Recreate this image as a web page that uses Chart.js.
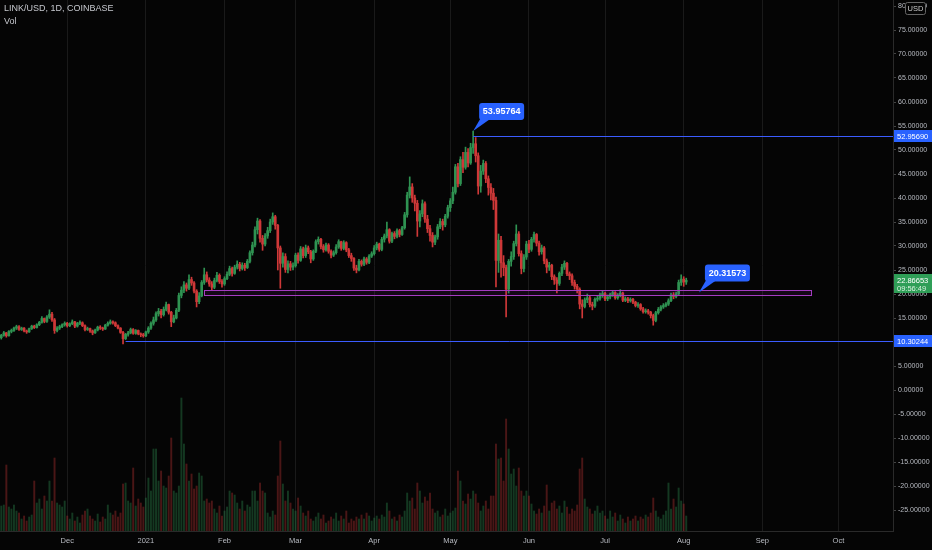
<!DOCTYPE html>
<html><head><meta charset="utf-8">
<script src="https://cdn.jsdelivr.net/npm/chart.js@4.4.1/dist/chart.umd.min.js"></script>
<style>html,body{margin:0;padding:0;background:#050505;overflow:hidden}#wrap{width:932px;height:550px}</style>
</head><body><div id="wrap"><canvas id="c" width="932" height="550"></canvas></div>
<script>
// ---- data (daily candles from 2020-11-05) ----
const startDateUTC = Date.UTC(2020, 10, 5);
const dayCount = 352;               // visible days on the time axis (to 2021-10-22)
const monthNames = ['Jan','Feb','Mar','Apr','May','Jun','Jul','Aug','Sep','Oct','Nov','Dec'];
const priceTickMin = -25, priceTickMax = 80, priceTickStep = 5;

const opens = [
10.9,11.4,11.9,11.3,12.2,12.4,12.9,13.2,12.6,12.9,
12.3,12.1,12.8,13.3,13.0,13.6,14.1,14.9,14.3,15.2,
15.8,14.6,12.4,12.9,13.2,13.6,13.9,13.4,13.8,14.2,
13.3,13.9,14.0,13.4,12.6,12.8,12.3,11.9,12.5,13.1,
12.9,12.7,13.5,13.9,14.2,14.0,13.4,12.9,12.0,10.7,
11.6,11.9,12.6,11.8,12.4,11.7,11.5,11.3,12.1,12.9,
13.9,14.6,15.9,16.4,15.7,16.8,17.8,16.2,14.2,15.0,
16.6,19.7,20.8,21.9,21.2,23.0,22.3,20.6,18.4,19.6,
22.4,24.0,22.9,22.1,21.4,22.8,23.9,22.6,22.1,23.2,
24.1,25.3,24.3,25.6,26.2,25.3,26.0,25.5,26.8,28.6,
30.2,33.4,35.2,31.6,30.4,32.1,33.2,35.0,36.1,34.3,
29.6,26.4,27.8,25.1,26.3,25.6,25.9,28.1,27.0,29.4,
28.0,29.6,28.8,27.3,28.9,30.9,31.4,29.9,29.2,30.2,
28.9,28.1,28.6,29.8,30.9,29.5,30.7,29.2,28.0,27.4,
25.4,25.0,26.8,26.2,27.3,26.6,27.9,28.4,29.6,30.4,
29.3,31.4,32.1,33.4,31.0,32.6,32.0,33.2,32.4,33.8,
36.5,40.6,42.3,40.0,38.9,35.2,36.7,38.8,35.6,33.6,
32.2,30.8,31.9,34.0,35.1,34.4,36.2,38.0,39.4,41.2,
46.5,43.0,48.0,46.4,49.5,47.3,50.5,51.3,48.8,42.5,
45.6,47.2,44.0,42.2,41.0,39.5,27.0,31.2,26.5,25.5,
21.0,26.8,27.8,30.5,32.5,28.4,25.3,27.7,30.4,29.3,
31.4,32.4,30.6,28.8,29.6,26.9,25.6,26.0,23.6,22.9,
22.2,24.3,25.6,26.4,24.2,23.8,22.4,21.6,21.0,17.9,
17.4,18.8,19.2,17.8,17.5,18.9,19.1,19.8,20.1,19.0,
19.4,19.9,20.3,19.2,19.8,20.2,18.7,19.0,18.6,18.9,
18.3,17.6,17.8,16.9,16.3,16.5,16.2,15.5,14.5,16.1,
16.8,17.3,17.6,17.9,18.6,19.8,19.5,20.0,22.4,23.1,
22.5];

const highs = [
11.6,12.2,12.0,12.4,12.7,13.1,13.5,13.4,13.1,13.0,
12.5,12.9,13.5,13.5,13.8,14.3,15.3,15.0,15.5,16.7,
16.2,14.9,13.2,13.5,13.8,14.2,14.1,14.0,14.6,14.3,
14.1,14.4,14.2,13.6,13.1,12.9,12.5,12.7,13.3,13.4,
13.1,13.7,14.2,14.6,14.4,14.2,13.6,13.0,12.2,11.8,
12.2,12.9,12.8,12.6,12.5,11.9,11.8,12.3,13.2,14.2,
15.2,16.3,17.0,16.8,17.3,18.3,17.9,16.4,15.6,17.0,
20.2,21.5,22.6,22.3,24.0,23.5,22.6,20.9,20.3,22.8,
25.4,24.6,23.4,22.6,23.3,24.5,24.2,23.0,23.6,24.6,
25.8,25.6,26.0,26.9,26.6,26.5,26.4,27.2,29.0,30.8,
34.0,35.8,35.5,32.2,32.6,33.9,35.6,36.9,36.4,34.5,
30.0,28.6,28.4,26.9,26.8,26.5,28.5,28.6,29.9,29.8,
30.2,30.0,29.1,29.2,31.3,31.9,31.6,30.3,30.6,30.5,
29.2,29.0,30.3,31.3,31.0,31.1,30.9,29.5,28.5,27.6,
26.0,27.2,27.1,27.7,27.6,28.2,28.8,30.1,30.8,30.6,
31.8,32.5,35.0,33.6,32.9,33.0,33.6,33.5,34.1,37.0,
41.2,44.4,43.0,40.6,39.5,37.4,39.6,39.2,36.4,34.3,
32.8,32.3,34.5,35.7,35.6,36.6,38.5,39.9,42.3,47.0,
47.2,48.6,49.5,50.6,50.3,51.4,53.95764,52.6,49.4,46.8,
47.9,47.6,44.6,43.0,42.0,40.2,32.5,32.0,28.0,26.0,
27.2,28.8,31.0,34.4,33.0,29.0,28.2,31.0,31.2,31.8,
32.9,32.6,31.0,30.2,29.9,27.3,26.6,26.2,24.0,23.4,
24.6,26.2,26.9,26.6,24.6,24.2,22.9,22.0,21.3,18.8,
19.2,20.0,19.5,18.3,19.2,19.6,20.2,20.6,20.4,19.8,
20.2,20.6,20.5,20.1,20.9,20.4,19.4,19.3,19.2,19.1,
18.5,18.2,18.0,17.2,16.9,16.8,16.4,15.8,16.4,17.2,
17.6,18.0,18.2,19.0,20.2,20.3,20.4,22.9,24.0,23.6,
23.3];

const lows = [
10.6,11.2,11.0,11.2,11.9,12.2,12.6,12.4,12.4,12.1,
11.8,12.0,12.6,12.8,12.9,13.4,13.9,14.0,14.1,14.9,
14.3,11.8,12.1,12.6,13.0,13.3,13.1,13.2,13.6,13.0,
13.1,13.6,13.2,12.3,12.4,12.0,11.5,11.8,12.3,12.6,
12.4,12.6,13.3,13.7,13.7,13.2,12.7,11.8,9.6,10.5,
11.2,11.7,11.6,11.6,11.5,11.1,11.0,11.1,11.8,12.6,
13.5,14.3,15.4,15.0,15.4,16.5,15.8,13.2,14.0,14.8,
16.3,19.2,20.3,20.6,20.9,21.8,20.2,17.3,18.0,19.4,
22.0,22.5,21.6,20.8,21.1,22.5,22.2,21.4,21.8,23.0,
23.8,23.7,24.1,25.2,24.8,25.0,24.9,25.3,26.5,28.1,
29.8,32.5,30.8,29.1,30.0,31.6,32.8,34.5,33.5,25.0,
21.2,25.6,24.5,24.4,24.9,25.0,25.6,26.4,26.8,27.5,
27.6,28.4,26.5,27.0,28.6,30.4,29.4,28.7,28.9,28.5,
27.5,27.8,28.3,29.5,29.1,29.2,28.8,27.6,26.8,24.9,
24.4,24.8,25.8,25.9,26.2,26.3,27.6,28.1,29.2,28.9,
29.0,30.8,31.7,30.6,30.7,31.5,31.7,31.9,32.2,33.5,
36.0,40.0,39.1,37.3,32.0,34.0,36.1,34.9,32.8,31.0,
29.8,30.3,31.4,33.6,33.3,34.0,35.8,37.2,38.8,40.8,
42.3,42.6,45.3,46.0,46.5,47.0,49.3,47.5,40.8,41.2,
44.9,43.2,40.6,39.6,37.6,21.5,24.5,23.5,23.8,15.2,
20.2,25.8,27.2,30.0,27.9,24.2,24.6,27.2,28.6,28.9,
30.8,30.0,28.1,28.3,26.3,24.4,24.9,23.0,22.0,20.2,
21.8,23.8,25.1,23.8,23.0,21.8,21.0,20.2,16.9,15.0,
17.1,18.2,17.3,16.7,17.2,18.5,18.7,19.3,18.6,18.6,
19.0,19.5,18.9,18.9,19.4,18.4,18.4,18.2,18.3,18.0,
17.3,17.2,16.6,16.0,16.0,15.8,15.0,13.5,14.2,15.8,
16.5,17.0,17.3,17.6,18.4,19.0,19.2,19.8,21.8,21.6,
22.0];

const closes = [
11.4,11.9,11.3,12.2,12.4,12.9,13.2,12.6,12.9,12.3,
12.1,12.8,13.3,13.0,13.6,14.1,14.9,14.3,15.2,15.8,
14.6,12.4,12.9,13.2,13.6,13.9,13.4,13.8,14.2,13.3,
13.9,14.0,13.4,12.6,12.8,12.3,11.9,12.5,13.1,12.9,
12.7,13.5,13.9,14.2,14.0,13.4,12.9,12.0,10.7,11.6,
11.9,12.6,11.8,12.4,11.7,11.5,11.3,12.1,12.9,13.9,
14.6,15.9,16.4,15.7,16.8,17.8,16.2,14.2,15.0,16.6,
19.7,20.8,21.9,21.2,23.0,22.3,20.6,18.4,19.6,22.4,
24.0,22.9,22.1,21.4,22.8,23.9,22.6,22.1,23.2,24.1,
25.3,24.3,25.6,26.2,25.3,26.0,25.5,26.8,28.6,30.2,
33.4,35.2,31.6,30.4,32.1,33.2,35.0,36.1,34.3,29.6,
26.4,27.8,25.1,26.3,25.6,25.9,28.1,27.0,29.4,28.0,
29.6,28.8,27.3,28.9,30.9,31.4,29.9,29.2,30.2,28.9,
28.1,28.6,29.8,30.9,29.5,30.7,29.2,28.0,27.4,25.4,
25.0,26.8,26.2,27.3,26.6,27.9,28.4,29.6,30.4,29.3,
31.4,32.1,33.4,31.0,32.6,32.0,33.2,32.4,33.8,36.5,
40.6,42.3,40.0,38.9,35.2,36.7,38.8,35.6,33.6,32.2,
30.8,31.9,34.0,35.1,34.4,36.2,38.0,39.4,41.2,46.5,
43.0,48.0,46.4,49.5,47.3,50.5,51.3,48.8,42.5,45.6,
47.2,44.0,42.2,41.0,39.5,27.0,31.2,26.5,25.5,21.0,
26.8,27.8,30.5,32.5,28.4,25.3,27.7,30.4,29.3,31.4,
32.4,30.6,28.8,29.6,26.9,25.6,26.0,23.6,22.9,22.2,
24.3,25.6,26.4,24.2,23.8,22.4,21.6,21.0,17.9,17.4,
18.8,19.2,17.8,17.5,18.9,19.1,19.8,20.1,19.0,19.4,
19.9,20.3,19.2,19.8,20.2,18.7,19.0,18.6,18.9,18.3,
17.6,17.8,16.9,16.3,16.5,16.2,15.5,14.5,16.1,16.8,
17.3,17.6,17.9,18.6,19.8,19.5,20.0,22.4,23.1,22.5,
22.86653];

// volume, millions
const volumes = [
2.5,2.6,6.6,2.4,2.2,2.6,2.0,1.8,1.2,1.5,
1.0,1.4,1.6,5.0,2.8,3.2,2.2,3.5,3.0,5.0,
3.0,7.3,2.8,2.6,2.4,3.0,1.5,1.2,1.8,1.0,
1.4,0.8,1.6,2.0,2.2,1.5,1.2,1.0,1.7,0.9,
1.4,1.2,2.6,1.8,1.6,2.0,1.4,1.8,4.7,4.8,
3.0,2.8,6.3,2.5,3.2,2.8,2.4,3.3,5.3,4.0,
8.2,8.2,5.0,6.0,4.5,4.3,5.5,9.3,4.0,3.8,
4.5,13.3,8.7,6.7,5.0,5.7,4.2,4.5,5.8,5.5,
3.0,3.2,2.8,3.0,2.2,1.8,2.5,1.5,2.0,2.4,
4.0,3.8,3.6,2.8,2.2,3.0,2.0,2.6,2.4,4.0,
4.0,3.0,4.8,4.0,3.8,1.8,1.4,2.0,1.6,5.5,
9.0,4.7,3.0,4.0,2.8,2.2,2.0,3.3,2.5,1.8,
1.5,2.0,1.2,1.0,1.4,1.8,1.2,1.6,0.8,1.0,
1.4,1.2,1.8,1.0,1.5,1.2,2.0,0.8,1.2,1.0,
1.4,1.2,1.6,1.2,1.8,1.5,1.0,1.3,1.5,1.2,
1.6,1.4,2.8,2.0,1.2,1.4,1.0,1.6,1.4,2.0,
3.8,3.0,3.3,2.2,4.8,4.0,2.8,3.4,3.0,3.8,
2.2,1.8,2.0,1.4,1.6,2.2,1.5,1.8,2.0,2.3,
6.0,5.0,3.0,2.7,3.7,3.2,4.0,3.7,2.8,2.0,
2.5,3.0,2.2,3.5,3.5,8.7,7.2,7.3,5.0,11.2,
8.2,5.7,6.2,4.5,6.3,4.0,3.5,4.0,3.5,2.7,
2.0,1.7,2.2,1.8,2.5,4.6,2.0,2.8,3.0,2.2,
2.5,1.8,3.0,2.4,1.7,2.2,2.0,2.6,6.2,7.3,
3.2,2.4,2.2,1.7,2.0,2.5,1.8,2.0,1.5,1.2,
2.0,1.4,1.8,1.0,1.6,1.2,0.8,1.4,1.0,1.2,
1.5,1.0,1.4,1.2,1.6,1.4,1.8,3.3,2.0,1.4,
1.2,1.6,2.0,4.8,2.2,3.2,2.4,4.3,3.0,2.7,
1.5];

// drawings
const levelValues = [52.9569, 10.30244];
const levelStartIdx = [186, 49];
const zoneTop = 20.83, zoneBottom = 19.79, zoneStartIdx = 80, zoneEndIdx = 319;
const calloutIdx = [186, 275];
const calloutValues = [53.95764, 20.31573];
const countdownText = '09:56:49';
const titleText = 'LINK/USD, 1D, COINBASE';
const volText = 'Vol';

// ---- build ----
const days = [];
for (let i = 0; i < dayCount; i++) days.push(new Date(startDateUTC + i * 86400000));
const categories = days.map(d => d.toISOString().slice(0, 10));
const isUp = closes.map((c, i) => c >= opens[i]);
const UP = '#2f9352', DOWN = '#cf3838';
const candleColors = isUp.map(u => u ? UP : DOWN);
const volColors = isUp.map(u => u ? 'rgba(47,147,82,0.36)' : 'rgba(207,56,56,0.34)');
const BG = '#050505';
const TXT = '#b8bbc2';
const FONT = "'Liberation Sans','DejaVu Sans',sans-serif";

function isMonthStart(i) { return days[i] && days[i].getUTCDate() === 1; }

const overlay = {
  id: 'overlay',
  beforeDraw(chart) {
    const c = chart.ctx; c.save(); c.fillStyle = BG; c.fillRect(0, 0, chart.width, chart.height); c.restore();
  },
  afterDraw(chart) {
    const ctx = chart.ctx, xs = chart.scales.x, ys = chart.scales.y, a = chart.chartArea;
    ctx.save();
    // zone rectangle
    const zx0 = Math.round(xs.getPixelForValue(zoneStartIdx)) + 0.5, zx1 = Math.round(xs.getPixelForValue(zoneEndIdx)) + 0.5;
    const zy0 = Math.round(ys.getPixelForValue(zoneTop)) + 0.5, zy1 = Math.round(ys.getPixelForValue(zoneBottom)) + 0.5;
    ctx.fillStyle = 'rgba(156,39,176,0.10)';
    ctx.fillRect(zx0, zy0, zx1 - zx0, zy1 - zy0);
    ctx.strokeStyle = '#a43cc0'; ctx.lineWidth = 1;
    ctx.strokeRect(zx0, zy0, zx1 - zx0, zy1 - zy0);
    // horizontal levels
    ctx.strokeStyle = '#3b5cff'; ctx.lineWidth = 1;
    levelValues.forEach((v, k) => {
      const py = Math.round(ys.getPixelForValue(v)) + 0.5;
      const px = xs.getPixelForValue(levelStartIdx[k]);
      ctx.beginPath(); ctx.moveTo(px, py); ctx.lineTo(a.right, py); ctx.stroke();
    });
    // callouts
    ctx.font = "bold 9px " + FONT;
    ctx.textAlign = 'center'; ctx.textBaseline = 'middle';
    calloutValues.forEach((v, k) => {
      const ax = xs.getPixelForValue(calloutIdx[k]), ay = ys.getPixelForValue(v);
      const left = ax + 6, w = 45, bottom = ay - 11, h = 17;
      ctx.fillStyle = '#2962ff';
      ctx.beginPath();
      if (ctx.roundRect) ctx.roundRect(left, bottom - h, w, h, 3); else ctx.rect(left, bottom - h, w, h);
      ctx.fill();
      ctx.beginPath(); ctx.moveTo(ax, ay); ctx.lineTo(left + 1, bottom - 1); ctx.lineTo(left + 11, bottom - 1); ctx.closePath(); ctx.fill();
      ctx.fillStyle = '#ffffff';
      ctx.fillText(v.toFixed(5), left + w / 2, bottom - h / 2 + 0.5);
    });
    // axis price labels for levels
    ctx.font = "7.5px " + FONT;
    ctx.textAlign = 'left';
    levelValues.forEach(v => {
      const py = Math.round(ys.getPixelForValue(v));
      ctx.fillStyle = '#2962ff';
      ctx.fillRect(a.right + 1, py - 6, chart.width - a.right - 1, 12);
      ctx.fillStyle = '#ffffff';
      ctx.fillText(v.toFixed(5), a.right + 4, py + 0.5);
    });
    // current price label
    const last = closes[closes.length - 1];
    const cy = Math.round(ys.getPixelForValue(last));
    ctx.fillStyle = '#2f9e57';
    ctx.fillRect(a.right + 1, cy - 6, chart.width - a.right - 1, 19);
    ctx.fillStyle = '#ffffff';
    ctx.fillText(last.toFixed(5), a.right + 4, cy + 0.5);
    ctx.fillStyle = '#d9f2df';
    ctx.fillText(countdownText, a.right + 4, cy + 8.5);
    // USD badge
    ctx.fillStyle = BG;
    ctx.fillRect(905, 2, 21, 13);
    ctx.strokeStyle = '#666'; ctx.lineWidth = 1;
    ctx.beginPath();
    if (ctx.roundRect) ctx.roundRect(905.5, 2.5, 20, 12, 2); else ctx.rect(905.5, 2.5, 20, 12);
    ctx.stroke();
    ctx.fillStyle = '#c8c8c8'; ctx.textAlign = 'center';
    ctx.fillText('USD', 915.5, 9);
    // title
    ctx.textAlign = 'left';
    ctx.font = "9px " + FONT;
    ctx.fillStyle = '#c6c8ce';
    ctx.fillText(titleText, 4, 9);
    ctx.fillText(volText, 4, 22);
    ctx.restore();
  }
};

new Chart(document.getElementById('c'), {
  type: 'bar',
  data: {
    labels: categories,
    datasets: [
      { label: 'body', data: opens.map((o, i) => [o, closes[i]]), backgroundColor: candleColors,
        barThickness: 2, minBarLength: 1, grouped: false, order: 0, yAxisID: 'y' },
      { label: 'wick', data: highs.map((h, i) => [lows[i], h]), backgroundColor: candleColors,
        barThickness: 1, grouped: false, order: 1, yAxisID: 'y' },
      { label: 'volume', data: volumes, backgroundColor: volColors,
        barThickness: 1.3, grouped: false, order: 2, yAxisID: 'yv' }
    ]
  },
  options: {
    responsive: false,
    animation: false,
    events: [],
    layout: { padding: 0 },
    plugins: { legend: { display: false }, tooltip: { enabled: false } },
    scales: {
      x: {
        offset: true,
        grid: { offset: false, drawTicks: false,
          color: ctx => isMonthStart(ctx.index) ? '#1a1a1a' : 'rgba(0,0,0,0)' },
        border: { color: '#2a2a2a' },
        ticks: { autoSkip: false, maxRotation: 0, minRotation: 0, padding: 5, color: TXT,
          font: { family: FONT, size: 7.5 },
          callback: (v, i) => {
            if (!isMonthStart(i)) return '';
            const m = days[i].getUTCMonth();
            return m === 0 ? String(days[i].getUTCFullYear()) : monthNames[m];
          } },
        afterFit: s => { s.height = 19; s.paddingLeft = 0; s.paddingRight = 0; }
      },
      y: {
        position: 'right', min: -29.375, max: 81.25,
        afterBuildTicks: s => {
          const t = [];
          for (let v = priceTickMin; v <= priceTickMax; v += priceTickStep) t.push({ value: v });
          s.ticks = t;
        },
        grid: { drawOnChartArea: false, tickLength: 3, color: '#444' },
        border: { color: '#2a2a2a' },
        ticks: { padding: 2, color: TXT, font: { family: FONT, size: 7 },
          callback: v => Number(v).toFixed(5) },
        afterFit: s => { s.width = 39; s.paddingTop = 0; s.paddingBottom = 0; }
      },
      yv: { display: false, min: 0, max: 53.1 }
    }
  },
  plugins: [overlay]
});
</script>
</body></html>
